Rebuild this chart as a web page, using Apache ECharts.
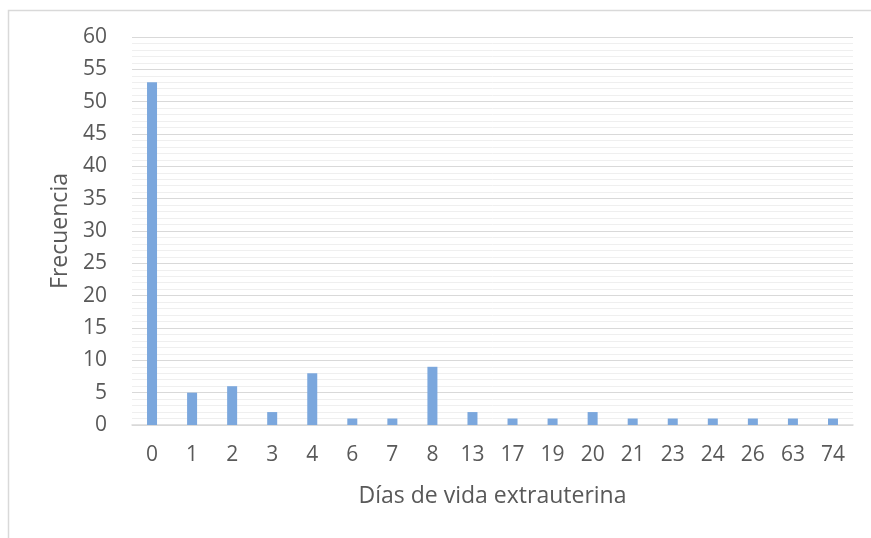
<!DOCTYPE html>
<html>
<head>
<meta charset="utf-8">
<script src="https://cdn.jsdelivr.net/npm/echarts@6/dist/echarts.min.js"></script>
<style>
  html, body { margin: 0; padding: 0; background: #fff; }
  #chart { width: 871px; height: 538px; }
</style>
</head>
<body>
<div id="chart"></div>
<script>
// Días de vida extrauterina vs. frecuencia
const categories = ['0', '1', '2', '3', '4', '6', '7', '8', '13', '17', '19', '20', '21', '23', '24', '26', '63', '74'];
const frecuencia = [53, 5, 6, 2, 8, 1, 1, 9, 2, 1, 1, 2, 1, 1, 1, 1, 1, 1];

const chart = echarts.init(document.getElementById('chart'), null, { renderer: 'canvas' });
const font = '"Open Sans", sans-serif';

chart.setOption({
  animation: false,
  backgroundColor: '#ffffff',
  graphic: [{
    type: 'rect',
    left: 6, top: 8,
    shape: { width: 900, height: 560 },
    style: { fill: 'none', stroke: '#d9d9d9', lineWidth: 1.5 },
    silent: true
  }],
  grid: { left: 132, right: 18, top: 37, bottom: 113 },
  xAxis: {
    type: 'category',
    data: categories,
    name: 'Días de vida extrauterina',
    nameLocation: 'middle',
    nameGap: 60,
    nameTextStyle: { fontFamily: font, fontSize: 23, color: '#595959' },
    axisLine: { lineStyle: { color: '#d9d9d9', width: 1.5 } },
    axisTick: { show: false },
    axisLabel: { fontFamily: font, fontSize: 21, color: '#595959', margin: 20, interval: 0 }
  },
  yAxis: {
    type: 'value',
    min: 0, max: 60, interval: 5,
    name: 'Frecuencia',
    nameLocation: 'middle',
    nameGap: 58,
    nameTextStyle: { fontFamily: font, fontSize: 23, color: '#595959' },
    axisLine: { show: false },
    axisTick: { show: false },
    axisLabel: { fontFamily: font, fontSize: 21, color: '#595959', margin: 25 },
    splitLine: { lineStyle: { color: '#d9d9d9', width: 1.2 } },
    minorTick: { show: false, splitNumber: 5 },
    minorSplitLine: { show: true, lineStyle: { color: '#efefef', width: 1 } }
  },
  series: [{
    type: 'bar',
    data: frecuencia,
    barWidth: 10,
    itemStyle: { color: '#7ba7dd' }
  }]
});
</script>
</body>
</html>
